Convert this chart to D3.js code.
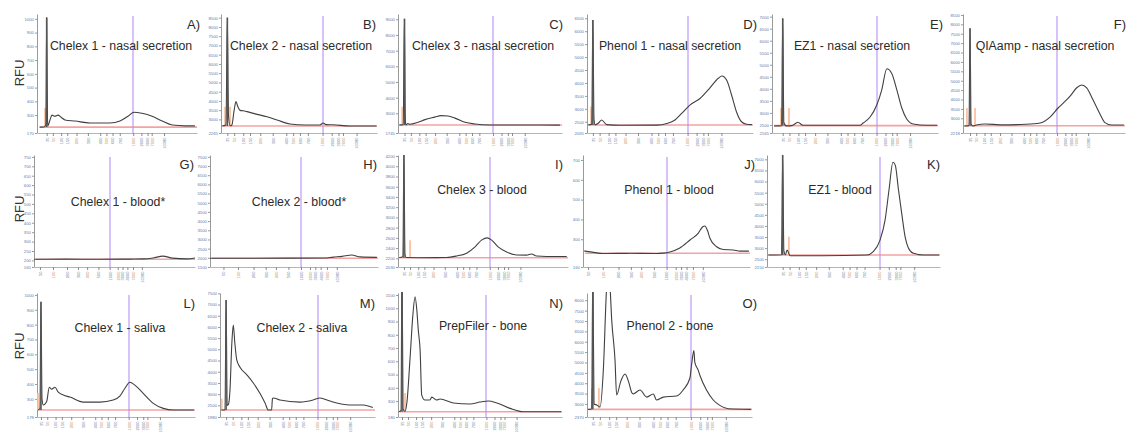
<!DOCTYPE html>
<html>
<head>
<meta charset="utf-8">
<script src="https://cdn.jsdelivr.net/npm/d3@7"></script>
<style>
  body { margin: 0; background: #fff; }
  svg { display: block; }
  text { font-family: "Liberation Sans", Arial, sans-serif; }
</style>
</head>
<body>
<div id="chart"></div>
<script>
/*
 * Bioanalyzer electropherograms, one small panel per extraction method / sample
 */

// ladders (bp labels + migration time in s)
var hsLadder = ['35', '50', '100', '150', '200', '300', '400', '500', '600', '700', '1000', '2000', '3000', '7000', '10380'];
var hsLadderTime = [43, 46, 50, 53, 57.5, 63, 69, 72, 75, 78.5, 85, 89, 92, 94, 100];
var stdLadder = ['50', '100', '200', '300', '400', '500', '1000', '2000', '3000', '4000', '7000', '10380'];
var stdLadderTime = [23.7, 31.8, 40.5, 47.3, 53, 60, 67, 72, 75, 78, 81.5, 87];
var cutoffBp = '1000';
var markerBp = '35';

var titles = ['Chelex 1 - nasal secretion', 'Chelex 2 - nasal secretion', 'Chelex 3 - nasal secretion',
  'Phenol 1 - nasal secretion', 'EZ1 - nasal secretion', 'QIAamp - nasal secretion',
  'Chelex 1 - blood*', 'Chelex 2 - blood*', 'Chelex 3 - blood', 'Phenol 1 - blood', 'EZ1 - blood',
  'Chelex 1 - saliva', 'Chelex 2 - saliva', 'PrepFiler - bone', 'Phenol 2 - bone'];
var letters = ['A)', 'B)', 'C)', 'D)', 'E)', 'F)', 'G)', 'H)', 'I)', 'J)', 'K)', 'L)', 'M)', 'N)', 'O)'];
var ladderType = ['hs', 'hs', 'hs', 'hs', 'hs', 'hs', 'std', 'std', 'hs', 'std', 'hs', 'hs', 'hs', 'hs', 'hs'];

// time window and RFU window of every panel
var timeDomains = [[38.3, 116], [40.2, 109], [39.9, 117.7], [40.4, 114], [38.2, 112.5], [39.6, 117.8],
  [20, 120], [16.2, 110], [40.1, 123.3], [20.9, 113], [36.2, 111.2],
  [41.1, 116.8], [40.2, 111.4], [41, 122.6], [40.5, 111.2]];
var rfuDomains = [[170, 1035], [2265, 8700], [1745, 9340], [2065, 6665], [2165, 7110], [2218, 8550],
  [165, 760], [1500, 7600], [2030, 4220], [160, 725], [2150, 7195],
  [178, 1013], [1980, 7515], [180, 1115], [2370, 8350]];
var rfuSteps = [100, 500, 1000, 500, 500, 500, 50, 500, 200, 100, 500, 100, 500, 100, 500];
var baselines = [213, 2645, 2255, 2375, 2470, 2600, 206, 1975, 2212, 229, 2690, 225, 2290, 220, 2740];

// orange marker windows: [time, RFU]
var markerBars = [
  [[42.2, 352]], [[42.0, 3680], [44.2, 3680]], [[41.9, 3415], [42.5, 3415]], [[42.2, 3075]],
  [[42.2, 3203], [45.8, 3203]], [[41.5, 3548], [45.4, 3548]],
  [], [], [[46.0, 2555]], [], [[42.7, 3510], [45.7, 3510]],
  [[41.6, 340]], [[41.0, 2800]], [[44.5, 361]], [[42.6, 3770], [45.6, 3770]]
];

// traces: [time (s), RFU]
var chelex1Nasal = [[39.8, 213], [41.7, 214], [42.6, 230], [43.0, 1009], [43.4, 260], [43.6, 222], [44.6, 265],
  [45.6, 300], [47.0, 292], [48.5, 300], [50.0, 285], [51.9, 265], [56.8, 257], [64.1, 243], [73.8, 243],
  [78.6, 257], [82.5, 292], [85.4, 321], [89.3, 313], [94.2, 292], [99.1, 257], [104, 228], [110.2, 222], [115, 222]];
var chelex2Nasal = [[40.6, 2645], [42.4, 2700], [43.0, 8505], [43.5, 3200], [44.2, 2660], [45.0, 2700],
  [46.0, 3500], [46.8, 3960], [47.6, 3700], [48.6, 3490], [49.9, 3470], [51.7, 3420], [55.2, 3300],
  [60.5, 3145], [64.9, 2970], [70.6, 2755], [77.2, 2700], [83.9, 2700], [85.2, 2805], [86.5, 2720],
  [89.6, 2710], [97.1, 2645], [108.8, 2640]];
var chelex3Nasal = [[40.4, 2255], [42.4, 2280], [42.9, 9040], [43.4, 2500], [43.7, 2260], [44.6, 2350],
  [45.5, 2300], [49.4, 2430], [52.7, 2600], [57.4, 2760], [60.3, 2855], [63.6, 2830], [66.9, 2695],
  [71.7, 2430], [76.4, 2320], [83.5, 2260], [97.7, 2255], [116.7, 2250]];
var phenol1Nasal = [[40.8, 2375], [42.5, 2400], [43.0, 6435], [43.5, 2600], [44.0, 2380], [45.5, 2450],
  [46.9, 2570], [49.1, 2390], [55.0, 2365], [71.4, 2370], [75.8, 2435], [79.4, 2570], [82.5, 2830],
  [86.0, 3145], [90.5, 3400], [94.9, 3810], [98.6, 4180], [100.2, 4270], [102.3, 4110], [104.5, 3535],
  [106.7, 2875], [108.9, 2500], [111.1, 2405], [113.5, 2390]];
var ez1Nasal = [[39.1, 2457], [42.5, 2470], [43.0, 6930], [43.5, 2600], [44.5, 2460], [47, 2470],
  [49.8, 2610], [52.0, 2490], [60, 2487], [77.6, 2487], [79.0, 2580], [82.1, 2830], [85.1, 3330],
  [87.3, 3950], [89.6, 4835], [91.8, 4640], [94.1, 3950], [96.3, 3205], [98.5, 2750], [101.4, 2540],
  [107.5, 2487], [112.1, 2487]];
var qiaNasal = [[40.1, 2590], [42.5, 2610], [43.0, 7790], [43.5, 2700], [44.3, 2590], [46, 2640],
  [50.2, 2700], [57.5, 2650], [70, 2680], [76.8, 2750], [81.6, 3067], [85.5, 3548], [87.9, 3800],
  [91.3, 4180], [94.5, 4624], [96.9, 4770], [99.3, 4624], [102.4, 3972], [105.7, 3231], [108.1, 2770],
  [111.4, 2640], [117.3, 2640]];
var chelex1Blood = [[20, 206], [40, 207], [60, 206], [80, 207], [88, 208], [94, 213], [100, 223],
  [106, 212], [115, 208], [120, 213]];
var chelex2Blood = [[16.2, 1975], [40, 1980], [60, 1985], [80, 1990], [85, 2040], [90, 2080],
  [95.3, 2150], [100, 2050], [109.4, 2025]];
var chelex3Blood = [[40.6, 2212], [42.5, 2230], [43.0, 4220], [43.5, 2300], [44.0, 2215], [50, 2212],
  [63.9, 2215], [68.8, 2245], [73.7, 2300], [77.8, 2425], [81.0, 2555], [83.8, 2600], [85.9, 2555],
  [89.1, 2425], [93.3, 2323], [98.1, 2265], [103, 2262], [105.5, 2285], [107.9, 2245], [117.7, 2235], [122.7, 2235]];
var phenol1Blood = [[21.5, 241], [25.9, 235], [31.9, 228], [46.8, 229], [61.7, 228], [65, 230], [68.8, 236],
  [74.3, 256], [79.9, 296], [84.4, 330], [86.8, 362], [88.1, 367], [89.5, 345], [90.9, 305], [94.6, 262],
  [98.2, 248], [103.7, 246], [107.4, 240], [112.4, 240]];
var ez1Blood = [[36.6, 2690], [42.5, 2700], [43.0, 7195], [43.5, 2900], [44.2, 2700], [44.9, 2910],
  [46.2, 2660], [60, 2655], [79.5, 2690], [82.3, 2840], [85.2, 3360], [87.4, 4270], [89.1, 5630],
  [90.8, 6867], [91.8, 6740], [93.2, 5630], [94.7, 4490], [96.1, 3500], [97.5, 3010], [99.7, 2765],
  [104, 2690], [110.8, 2690]];
var chelex1Saliva = [[41.6, 225], [42.5, 235], [43.0, 954], [43.5, 300], [44.1, 259], [45.7, 280],
  [47.0, 378], [48.1, 365], [49.7, 378], [51.3, 345], [53.7, 326], [56.9, 312], [63.3, 278], [71.3, 278],
  [77.6, 292], [80.9, 320], [83.3, 373], [85.6, 412], [88.0, 393], [92.0, 337], [96.8, 270], [101.6, 236],
  [106.4, 225], [116.3, 225]];
var chelex2Saliva = [[40.7, 2290], [42.5, 2300], [43.0, 7200], [43.5, 2500], [44.0, 2530], [44.8, 3200],
  [45.6, 5200], [46.3, 6080], [47.0, 5300], [47.9, 4525], [49.4, 4200], [52.5, 3865], [55.5, 3500],
  [58.6, 3030], [60.9, 2600], [62.4, 2290], [63.9, 2290], [64.3, 2800], [64.7, 2830], [67.7, 2740],
  [76.9, 2645], [83, 2740], [86.1, 2830], [90.7, 2690], [99.9, 2515], [106, 2515], [110.4, 2400]];
var prepfilerBone = [[41.5, 220], [42.5, 230], [43.0, 1400], [43.5, 240], [44.5, 222], [45.5, 300],
  [47.0, 624], [48.4, 950], [49.5, 1087], [50.4, 980], [51.1, 834], [52.0, 685], [52.8, 345], [54.4, 308],
  [56.9, 308], [57.8, 330], [60.3, 308], [61.9, 316], [68.5, 286], [76.9, 278], [81.8, 293], [86, 301],
  [90.2, 286], [96.8, 245], [103.4, 220], [122.2, 220]];
var phenol2Bone = [[40.9, 2740], [42.5, 2760], [43.0, 9500], [43.5, 3000], [44.7, 2950], [46.1, 2850],
  [47.5, 4640], [48.9, 8600], [49.7, 9500], [50.3, 8800], [51.1, 7030], [52.5, 5120], [53.2, 3430],
  [55, 4100], [56.8, 4445], [58.5, 4000], [59.6, 3565], [60.3, 3480], [63.2, 3670], [66.1, 3330],
  [68.9, 3480], [70.3, 3190], [73.2, 3330], [78.9, 3380], [81.7, 3670], [84.6, 4250], [85.3, 4880],
  [86.3, 5570], [86.7, 5000], [88.1, 4640], [88.9, 4370], [91.7, 3670], [94.6, 3190], [97.4, 2930],
  [101, 2770], [110.7, 2740]];

var traces = [chelex1Nasal, chelex2Nasal, chelex3Nasal, phenol1Nasal, ez1Nasal, qiaNasal,
  chelex1Blood, chelex2Blood, chelex3Blood, phenol1Blood, ez1Blood,
  chelex1Saliva, chelex2Saliva, prepfilerBone, phenol2Bone];

/*
 * Layout
 */
var width = 1127;
var height = 432;
var rows = [[14, 133], [155, 267], [293, 417]];
var panelRow = [0, 0, 0, 0, 0, 0, 1, 1, 1, 1, 1, 2, 2, 2, 2];
var panelX = [[37, 197], [221, 377], [398, 562], [587, 753], [772, 938], [963, 1125],
  [34, 195], [210, 378], [398, 568], [583, 750], [767, 940],
  [37, 195], [220, 375], [398, 562], [587, 752]];
var titleX = [121, 301, 483, 670, 852, 1045, 118, 299, 482, 669, 840, 120, 302, 483, 670];
var titleY = [50, 50, 50, 50, 50, 50, 206, 206, 194, 194, 194, 332, 332, 330, 330];
var letterX = [200, 376, 563, 757, 943, 1126, 194, 377, 563, 755, 940, 195, 375, 563, 757];
var letterY = [29, 29, 29, 29, 29, 29, 169, 169, 169, 169, 169, 308, 308, 308, 308];
var rfuLabelY = [73, 209, 346];

var svg = d3.select('#chart').append('svg').attr('width', width).attr('height', height);

traces.forEach(function(trace, i) {
  renderPanel(i);
});

rfuLabelY.forEach(function(cy) {
  svg.append('text')
    .attr('transform', 'translate(24,' + cy + ') rotate(-90)')
    .attr('text-anchor', 'middle')
    .attr('font-size', 13)
    .attr('fill', '#333')
    .text('RFU');
});

/*
 * Draws one electropherogram
 */
function renderPanel(i) {
  var row = rows[panelRow[i]];
  var x0 = panelX[i][0];
  var x1 = panelX[i][1];
  var ladder = ladderType[i] === 'hs' ? hsLadder : stdLadder;
  var ladderTime = ladderType[i] === 'hs' ? hsLadderTime : stdLadderTime;
  var x = d3.scaleLinear().domain(timeDomains[i]).range([x0, x1]);
  var y = d3.scaleLinear().domain(rfuDomains[i]).range([row[1], row[0]]);
  var g = svg.append('g');

  g.append('clipPath').attr('id', 'clip' + i)
    .append('rect')
    .attr('x', x0).attr('y', row[0] - 1)
    .attr('width', x1 - x0).attr('height', row[1] - row[0] + 1);

  // y axis
  var lo = rfuDomains[i][0];
  var hi = rfuDomains[i][1];
  var step = rfuSteps[i];
  var yTicks = [lo].concat(d3.range(Math.ceil((lo + step * 0.6) / step) * step, hi + 1, step));
  var yAxis = g.append('g')
    .attr('transform', 'translate(' + x0 + ',0)')
    .call(d3.axisLeft(y).tickValues(yTicks).tickSize(2).tickSizeOuter(0).tickFormat(d3.format('d')));
  yAxis.select('.domain').attr('stroke', '#9a9a9a');
  yAxis.selectAll('line').attr('stroke', '#9a9a9a');
  yAxis.selectAll('text').attr('font-size', 4.3).attr('fill', '#5f7cae').attr('x', -3);

  // x axis with ladder sizes
  var xAxis = g.append('g')
    .attr('transform', 'translate(0,' + row[1] + ')')
    .call(d3.axisBottom(x).tickValues(ladderTime).tickSize(3).tickSizeOuter(0)
      .tickFormat(function(d, k) { return ladder[k]; }));
  xAxis.select('.domain').attr('stroke', '#b5b5b5');
  xAxis.selectAll('line').attr('stroke', '#888');
  xAxis.selectAll('text')
    .attr('font-size', 4)
    .attr('fill', function(d, k) { return k % 3 === 1 ? '#c98a55' : '#6d7fa6'; })
    .attr('transform', 'rotate(-90)')
    .attr('text-anchor', 'end')
    .attr('x', -4.5).attr('y', 0).attr('dy', '0.35em');

  // cutoff line
  var cutX = Math.round(x(ladderTime[ladder.indexOf(cutoffBp)]));
  g.append('line')
    .attr('x1', cutX).attr('x2', cutX)
    .attr('y1', row[0] + 2).attr('y2', row[1])
    .attr('stroke', '#d3bdfa').attr('stroke-width', 1.8);

  var plot = g.append('g').attr('clip-path', 'url(#clip' + i + ')');

  // baseline
  plot.append('line')
    .attr('x1', x0 + 2).attr('x2', x1)
    .attr('y1', y(baselines[i])).attr('y2', y(baselines[i]))
    .attr('stroke', '#f08585').attr('stroke-width', 1.6).attr('opacity', 0.75);

  // marker windows
  plot.selectAll('.marker')
    .data(markerBars[i])
    .enter()
    .append('line')
    .attr('class', 'marker')
    .attr('x1', function(d) { return x(d[0]); })
    .attr('x2', function(d) { return x(d[0]); })
    .attr('y1', y(baselines[i]))
    .attr('y2', function(d) { return y(d[1]); })
    .attr('stroke', '#f9c3a0').attr('stroke-width', 1.8);

  var line = d3.line()
    .x(function(d) { return x(d[0]); })
    .y(function(d) { return y(d[1]); })
    .curve(d3.curveMonotoneX);

  plot.append('path')
    .datum(traces[i])
    .attr('d', line)
    .attr('fill', 'none')
    .attr('stroke', '#404040')
    .attr('stroke-width', 1.1)
    .attr('stroke-linejoin', 'round');

  // lower marker peak drawn a bit heavier, like the thick bar in the export
  if (ladderType[i] === 'hs') {
    var mT = ladderTime[ladder.indexOf(markerBp)];
    var peak = d3.max(traces[i], function(d) { return Math.abs(d[0] - mT) < 0.2 ? d[1] : null; });
    if (peak) {
      plot.append('line')
        .attr('x1', x(mT)).attr('x2', x(mT))
        .attr('y1', y(baselines[i])).attr('y2', y(peak))
        .attr('stroke', '#555').attr('stroke-width', 1.6);
    }
  }

  g.append('text')
    .attr('x', titleX[i]).attr('y', titleY[i])
    .attr('text-anchor', 'middle')
    .attr('font-size', 12.3)
    .attr('fill', '#2b2b2b')
    .text(titles[i]);

  g.append('text')
    .attr('x', letterX[i]).attr('y', letterY[i])
    .attr('text-anchor', 'end')
    .attr('font-size', 13)
    .attr('fill', '#2b2b2b')
    .text(letters[i]);
}
</script>
</body>
</html>
